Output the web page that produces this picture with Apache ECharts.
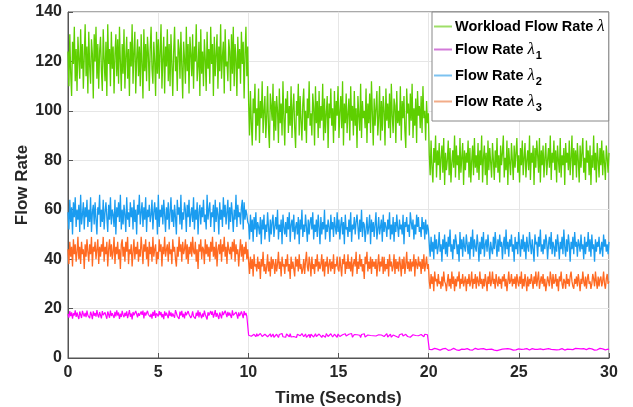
<!DOCTYPE html>
<html><head><meta charset="utf-8">
<script src="https://cdn.jsdelivr.net/npm/echarts@6/dist/echarts.min.js"></script>
<style>html,body{margin:0;padding:0;background:#fff}#c{width:633px;height:407px}</style>
</head><body><div id="c"></div>
<script>
const xTicks = [0,5,10,15,20,25,30];
const yTicks = [0,20,40,60,80,100,120,140];
const seriesNames = ['Workload Flow Rate λ','Flow Rate λ1','Flow Rate λ2','Flow Rate λ3'];
const duration = 30;

const workload = [
124,110,131,115,106,128,119,134,112,125,
108,130,121,113,133,117,127,109,122,135,
114,126,107,132,118,111,129,123,105,131,
120,134,113,127,109,124,130,116,108,133,
121,112,128,106,135,119,125,110,132,117,
126,107,123,131,114,129,111,134,120,108,
127,115,133,109,122,130,113,125,106,128,
118,135,111,124,132,107,121,129,114,126,
110,131,119,105,133,116,127,112,130,123,
108,125,134,117,111,128,120,106,132,115,
129,113,124,135,109,121,130,107,126,118,
133,112,127,110,131,119,106,124,134,116,
122,108,129,125,113,132,118,105,128,121,
111,134,116,127,107,130,123,114,131,109,
126,120,135,112,118,128,106,133,115,124,
110,129,121,108,132,117,125,111,134,119,
127,106,130,114,123,131,109,126,116,135,
113,122,128,107,133,118,120,112,129,124,
108,131,115,134,110,127,121,106,130,117,
125,111,132,119,128,105,123,134,114,126,
103,90,108,95,86,105,99,111,88,101,
94,109,87,104,97,112,91,100,106,89,
98,110,93,85,107,102,96,111,88,104,
92,106,100,87,109,95,103,90,112,97,
86,105,99,108,91,102,94,110,89,101,
107,93,85,104,98,111,90,106,96,88,
103,109,92,100,87,105,97,112,94,99,
90,107,101,86,110,95,104,89,108,93,
102,96,111,88,105,91,99,106,85,103,
97,109,94,101,87,108,92,104,98,110,
89,100,106,93,112,86,103,95,107,91,
99,105,88,110,96,102,90,108,94,101,
85,106,98,92,111,89,104,97,100,93,
109,87,103,95,107,91,112,99,86,105,
94,101,108,90,97,110,88,104,92,106,
100,86,109,96,103,93,107,89,111,98,
91,105,102,87,108,95,100,94,110,88,
104,97,106,92,85,109,99,103,90,107,
96,111,89,101,94,105,87,108,98,102,
93,106,91,110,97,100,88,104,95,99,
82,74,88,77,71,85,79,90,73,84,
78,87,72,81,86,75,89,70,83,76,
80,88,74,85,71,79,84,77,90,73,
86,78,82,72,89,75,81,87,70,84,
76,83,79,88,73,85,71,80,86,74,
89,77,82,75,87,72,84,78,90,71,
81,86,74,83,70,88,76,85,79,73,
87,80,72,84,77,89,75,82,71,86,
78,83,90,73,81,76,88,70,85,79,
74,87,80,72,86,77,83,89,75,82,
71,85,78,88,74,81,87,73,80,84,
76,90,72,83,79,86,70,85,77,88,
82,75,89,71,84,78,86,73,81,87,
74,80,85,77,90,72,83,79,88,76,
84,71,86,80,75,89,73,82,78,85,
70,87,79,83,76,88,74,81,90,72,
85,78,84,73,87,80,71,86,77,83,
89,75,81,72,88,79,84,74,86,70,
82,77,90,76,83,71,87,80,73,85,
78,88,74,84,79,72,86,81,75,83];

const rate1 = [
17.8,16.3,19.0,16.9,18.5,15.9,18.1,17.2,19.3,16.6,
18.4,17.0,15.8,18.8,17.5,16.2,19.1,17.7,16.8,18.3,
16.5,19.2,17.3,18.0,16.1,18.7,17.6,15.7,18.9,17.1,
18.2,16.7,19.4,17.4,16.4,18.6,17.9,16.0,19.0,17.3,
16.9,18.5,17.1,15.9,18.8,17.6,16.3,19.2,17.0,18.1,
17.5,16.2,18.7,16.8,19.3,17.2,18.4,15.8,17.9,16.6,
19.1,17.4,16.5,18.3,17.0,18.9,16.1,17.7,19.4,16.7,
18.0,15.6,18.6,17.3,16.9,19.0,17.8,16.4,18.2,17.1,
16.3,18.8,17.5,19.2,16.0,18.5,17.2,16.8,19.1,17.6,
18.4,16.6,17.9,15.9,18.7,17.0,19.3,16.2,18.1,17.4,
16.8,19.0,17.3,18.6,16.4,17.8,15.7,18.9,17.1,18.3,
17.6,16.1,19.2,17.0,18.5,16.7,18.0,17.4,16.3,19.4,
18.2,16.9,17.5,15.8,18.8,17.2,19.1,16.5,17.9,16.0,
18.7,17.3,16.6,19.0,17.7,18.4,16.2,17.1,18.9,16.8,
17.4,15.9,18.3,17.0,19.3,16.4,18.6,17.8,16.1,18.0,
16.7,19.2,17.6,18.1,15.6,18.5,17.2,16.9,19.0,17.5,
18.8,16.3,17.7,19.4,16.6,18.2,17.0,15.8,18.4,17.3,
16.0,18.9,17.4,16.8,19.1,17.9,16.5,18.7,17.1,18.3,
17.8,16.2,19.3,17.2,18.0,16.7,18.6,17.5,15.9,18.5,
17.0,16.4,18.8,17.6,16.1,19.0,17.3,18.2,16.9,17.7,
9.2,8.5,9.7,8.8,9.4,8.3,9.6,9.0,8.6,9.8,
8.9,9.3,8.4,9.9,9.1,8.7,9.5,8.2,9.6,9.0,
9.4,8.6,9.2,8.9,9.8,8.5,9.3,9.7,8.4,9.1,
8.8,9.6,9.0,8.3,9.5,9.2,8.7,9.9,8.6,9.4,
9.1,8.4,9.7,8.9,9.3,8.6,9.8,8.5,9.2,9.0,
8.7,9.5,9.1,8.3,9.6,8.8,9.4,9.0,8.5,9.9,
9.3,8.6,9.0,9.7,8.4,9.2,8.9,9.5,8.2,9.6,
8.8,9.4,8.5,9.1,9.8,8.7,9.3,8.6,9.7,9.0,
9.5,8.3,9.2,8.9,9.6,8.4,9.9,9.1,8.7,9.4,
8.6,9.8,9.0,8.5,9.3,9.6,8.8,9.2,8.4,9.7,
9.1,8.7,9.5,8.3,9.4,9.0,8.6,9.8,8.9,9.2,
8.5,9.6,9.3,8.8,9.9,8.4,9.1,9.5,8.7,9.0,
9.4,8.6,9.7,9.2,8.3,9.5,8.9,9.0,9.8,8.5,
9.2,8.8,9.3,8.6,9.6,9.1,8.4,9.7,9.0,8.7,
9.5,8.9,9.1,8.2,9.4,9.8,8.6,9.3,8.8,9.6,
8.7,9.4,9.0,9.9,8.5,9.2,8.9,9.6,8.4,9.1,
9.3,8.6,9.7,8.8,9.5,9.0,8.3,9.4,9.2,8.7,
9.8,8.9,9.1,8.5,9.6,9.3,8.7,9.0,9.5,8.4,
9.2,8.6,9.4,9.7,8.8,9.1,8.5,9.8,9.0,9.3,
8.7,9.5,8.9,9.2,8.6,9.6,9.0,8.8,9.4,9.1,
3.5,3.2,3.8,3.4,3.7,3.1,3.9,3.5,3.3,3.6,
3.4,3.8,3.2,3.6,3.0,3.7,3.5,3.3,3.9,3.4,
3.7,3.1,3.6,3.8,3.3,3.5,3.2,3.9,3.4,3.6,
3.3,3.7,3.5,3.1,3.8,3.4,3.6,3.2,3.7,3.5,
3.6,3.0,3.8,3.4,3.9,3.3,3.5,3.7,3.2,3.6,
3.4,3.9,3.1,3.6,3.5,3.8,3.3,3.7,3.2,3.5,
3.8,3.3,3.6,3.4,3.2,3.7,3.5,3.9,3.1,3.6,
3.5,3.8,3.2,3.7,3.4,3.0,3.6,3.8,3.3,3.5,
3.2,3.6,3.9,3.4,3.7,3.3,3.5,3.8,3.1,3.7,
3.6,3.4,3.8,3.2,3.5,3.9,3.3,3.6,3.4,3.7,
3.3,3.7,3.5,3.9,3.2,3.6,3.4,3.1,3.8,3.5,
3.7,3.2,3.6,3.4,3.8,3.3,3.9,3.5,3.6,3.2,
3.5,3.9,3.3,3.7,3.1,3.6,3.4,3.8,3.2,3.6,
3.4,3.6,3.8,3.2,3.7,3.5,3.3,3.9,3.4,3.1,
3.8,3.3,3.5,3.7,3.4,3.6,3.2,3.8,3.5,3.7,
3.2,3.7,3.4,3.6,3.9,3.1,3.5,3.3,3.8,3.4,
3.6,3.5,3.9,3.3,3.6,3.8,3.4,3.2,3.7,3.5,
3.3,3.8,3.2,3.6,3.4,3.7,3.5,3.9,3.1,3.6,
3.7,3.4,3.6,3.2,3.8,3.5,3.3,3.7,3.4,3.9,
3.5,3.2,3.7,3.4,3.6,3.3,3.8,3.5,3.6,3.4];

const rate2 = [
59,52,64,55,61,50,63,57,65,53,
60,56,62,51,66,54,58,63,52,61,
57,64,53,60,55,65,51,59,62,54,
63,56,50,61,58,66,53,60,55,64,
52,59,63,57,51,62,56,65,54,60,
58,53,64,50,61,57,63,55,66,52,
60,54,62,58,51,65,56,59,53,63,
57,61,52,64,55,60,50,62,58,66,
54,59,63,53,61,56,65,51,60,57,
62,55,58,64,52,59,63,56,61,50,
66,53,60,57,62,54,64,58,51,61,
56,63,52,59,65,55,60,53,62,57,
50,64,58,61,54,66,52,59,56,63,
60,51,62,57,64,53,58,61,55,65,
52,60,56,63,50,59,62,54,61,57,
64,55,58,52,66,56,60,63,53,59,
57,62,51,64,55,61,58,50,63,56,
60,53,65,57,62,54,59,64,52,61,
55,63,58,51,60,56,66,53,62,57,
59,54,61,64,52,63,56,60,58,55,
54,48,58,51,56,47,57,52,59,49,
55,53,50,57,46,56,52,58,48,54,
51,59,53,47,56,50,55,58,49,53,
57,52,60,48,54,51,56,46,58,53,
50,55,49,57,52,59,47,54,56,51,
58,48,53,55,50,57,46,56,52,60,
49,54,51,58,53,47,56,50,55,57,
52,59,48,54,51,56,49,58,53,46,
57,50,55,52,60,48,54,51,56,53,
47,58,52,55,49,57,53,50,59,51,
56,48,54,57,50,55,46,58,52,53,
49,56,51,59,47,54,52,57,50,55,
58,53,48,56,51,60,49,55,54,47,
52,57,50,53,58,46,56,51,55,49,
54,59,48,52,57,50,53,56,47,58,
51,55,53,49,56,52,59,48,54,50,
57,47,55,51,58,53,49,56,52,54,
50,58,46,55,53,57,51,54,49,59,
55,52,56,48,54,50,58,53,57,51,
53,49,57,52,55,48,56,50,54,52,
46,41,49,43,47,40,50,44,48,42,
45,51,43,46,39,48,44,50,42,47,
41,49,45,52,43,46,40,48,44,50,
47,42,46,39,51,44,48,41,49,45,
43,50,46,42,47,40,49,44,52,41,
48,45,43,50,46,39,47,42,49,44,
51,41,46,48,43,50,45,40,47,44,
42,49,44,51,46,41,48,43,50,45,
47,40,46,49,42,52,44,47,41,48,
45,50,43,46,39,49,44,47,42,51,
46,41,48,44,50,43,47,40,49,45,
43,51,46,42,48,44,39,50,46,47,
41,49,45,52,43,46,42,48,44,50,
47,40,46,49,44,51,42,47,45,41,
48,43,50,46,40,47,44,49,42,52,
45,41,48,43,50,46,39,47,44,49,
42,51,45,47,41,48,46,43,50,44,
46,40,49,42,47,45,51,43,48,41,
50,44,46,39,48,43,47,45,49,42,
44,47,41,50,45,48,43,46,42,47];

const rate3 = [
44,38,47,41,45,37,48,42,46,39,
43,49,40,45,38,47,42,44,36,46,
41,48,43,39,46,42,49,37,45,43,
47,40,44,48,38,45,41,46,43,49,
39,45,42,47,37,44,48,41,46,40,
43,49,38,45,42,47,40,44,36,46,
48,41,45,39,47,43,49,38,44,42,
46,37,43,48,40,45,42,47,39,44,
41,49,44,38,46,43,48,40,45,37,
47,42,45,39,49,41,44,46,38,43,
40,48,43,46,37,45,42,49,41,44,
46,39,47,42,44,38,48,43,45,40,
37,45,41,49,43,46,39,47,42,44,
48,40,46,38,45,42,47,41,49,43,
42,47,39,44,36,46,43,48,40,45,
44,38,48,42,46,41,45,39,47,43,
49,41,45,40,47,37,44,46,42,48,
39,46,43,49,41,45,38,47,44,42,
45,40,47,43,48,39,46,42,44,37,
43,48,41,46,39,45,42,47,40,44,
39,34,41,36,40,33,42,37,38,35,
41,36,39,32,40,37,43,35,38,34,
37,42,35,39,33,41,36,40,38,34,
40,35,38,43,36,39,33,41,37,38,
34,40,37,42,35,38,32,41,36,39,
39,33,41,37,40,35,42,36,38,34,
36,40,34,39,43,37,35,41,38,33,
41,36,38,34,40,37,42,35,39,36,
38,42,35,40,33,39,37,41,34,38,
40,35,39,36,42,34,38,37,41,36,
35,41,37,33,40,38,42,34,39,36,
42,36,39,35,41,33,38,40,37,43,
34,39,36,42,37,40,35,38,32,41,
38,43,35,39,36,41,34,40,37,39,
36,40,33,38,42,35,39,37,41,34,
41,35,38,36,40,33,42,37,39,35,
37,42,34,40,36,39,35,41,38,33,
40,36,41,34,38,43,36,39,35,40,
35,39,37,42,33,40,38,36,41,37,
39,34,40,36,42,35,38,41,36,38,
31,28,34,30,33,27,35,31,32,29,
34,30,31,28,33,29,35,31,30,27,
31,34,29,32,28,35,30,33,27,32,
29,33,31,35,28,32,30,34,29,31,
33,27,32,30,34,29,31,35,28,32,
30,34,28,33,31,29,35,30,32,28,
32,29,34,31,27,33,30,35,29,31,
35,30,32,28,34,31,29,33,30,32,
28,33,31,34,29,32,27,31,35,30,
31,34,29,32,30,33,28,34,31,29,
33,30,35,28,32,29,34,31,27,33,
29,32,30,34,31,28,33,30,35,29,
32,35,28,31,33,30,34,29,32,27,
30,33,31,29,35,32,28,34,30,31,
34,29,32,27,33,31,35,30,28,32,
31,28,34,30,32,29,33,35,31,29,
28,32,30,33,29,34,31,27,32,30,
35,31,29,33,28,32,34,30,31,28,
30,34,32,29,35,31,28,33,29,32,
33,29,31,35,30,28,32,34,30,31];

const colors = ['#5ecf00','#ff00ff','#1a9cf0','#ff6a22'];
const legendColors = ['#9ede68','#d27ad8','#7cc2f0','#f2ac88'];
const legendText = [
  '{b|Workload Flow Rate }{l|λ}',
  '{b|Flow Rate }{l|λ}{s|1}',
  '{b|Flow Rate }{l|λ}{s|2}',
  '{b|Flow Rate }{l|λ}{s|3}'
];

function pairs(arr){
  const n = arr.length;
  return arr.map((v,i)=>[i*duration/(n-1), v]);
}
const allData = [workload, rate1, rate2, rate3];
const widths = [1.3, 1.2, 1.3, 1.3];

const chart = echarts.init(document.getElementById('c'), null, {renderer:'canvas'});
chart.setOption({
  animation:false,
  backgroundColor:'#fff',
  grid:{left:68,right:24,top:12,bottom:49,show:true,borderColor:'#555',borderWidth:1,
    backgroundColor:'transparent',containLabel:false,outerBoundsMode:'none'},
  xAxis:{type:'value',min:xTicks[0],max:xTicks[xTicks.length-1],interval:5,
    name:'Time (Seconds)',nameLocation:'middle',nameGap:32,nameMoveOverlap:false,
    nameTextStyle:{fontFamily:'Liberation Sans',fontWeight:'bold',fontSize:17,color:'#262626',verticalAlign:'top'},
    axisLine:{show:true,lineStyle:{color:'#555'}},
    axisTick:{show:true,inside:true,length:5,lineStyle:{color:'#555'}},
    axisLabel:{fontFamily:'Liberation Sans',fontWeight:'bold',fontSize:16,color:'#262626',margin:7},
    splitLine:{show:true,lineStyle:{color:'#e6e6e6',width:1}}},
  yAxis:{type:'value',min:yTicks[0],max:yTicks[yTicks.length-1],interval:20,
    name:'Flow Rate',nameLocation:'middle',nameGap:37,nameRotate:90,nameMoveOverlap:false,
    nameTextStyle:{fontFamily:'Liberation Sans',fontWeight:'bold',fontSize:17,color:'#262626'},
    axisLine:{show:true,lineStyle:{color:'#555'}},
    axisTick:{show:true,inside:true,length:5,lineStyle:{color:'#555'}},
    axisLabel:{fontFamily:'Liberation Sans',fontWeight:'bold',fontSize:16,color:'#262626',margin:6},
    splitLine:{show:true,lineStyle:{color:'#e6e6e6',width:1}}},
  legend:{orient:'vertical',left:432,top:12,
    padding:[6,4,8,2],itemGap:6,itemWidth:18,itemHeight:2,
    backgroundColor:'#fff',borderColor:'#888',borderWidth:1,borderRadius:0,
    data:seriesNames.map((n,i)=>({name:n,icon:'rect',itemStyle:{color:legendColors[i]}})),
    formatter:function(name){return legendText[seriesNames.indexOf(name)];},
    textStyle:{color:'#000',padding:[0,0,0,-2],
      rich:{
        b:{fontFamily:'Liberation Sans',fontWeight:'bold',fontSize:14.5,color:'#000'},
        l:{fontFamily:'Liberation Serif',fontStyle:'italic',fontSize:17,color:'#000'},
        s:{fontFamily:'Liberation Sans',fontWeight:'bold',fontSize:11,color:'#000',padding:[12,0,0,1]}
      }}},
  series:seriesNames.map((n,i)=>({
    name:n,type:'line',data:pairs(allData[i]),showSymbol:false,symbol:'none',
    sampling:null,lineStyle:{color:colors[i],width:widths[i]},itemStyle:{color:colors[i]},
    emphasis:{disabled:true}
  }))
});
</script></body></html>
